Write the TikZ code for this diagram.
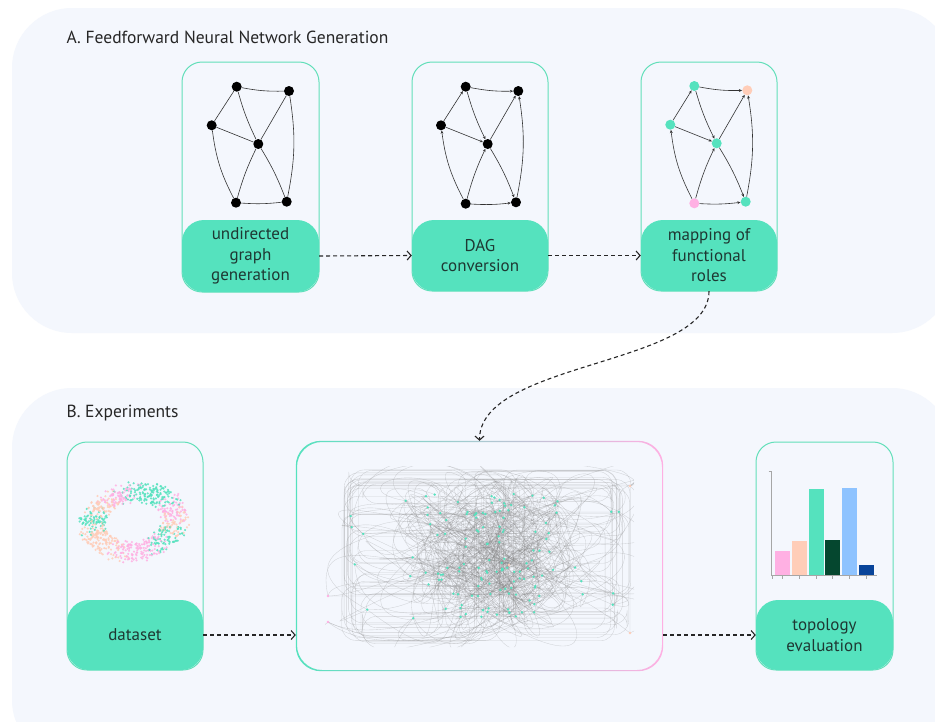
\documentclass[tikz,border=0pt]{standalone}
\usepackage{fontspec}
\setmainfont{PT Sans}
\usetikzlibrary{arrows.meta,calc}
\definecolor{panelbg}{HTML}{F4F7FD}
\definecolor{mint}{HTML}{55E2BE}
\definecolor{mintline}{HTML}{62DFB9}
\definecolor{txt}{HTML}{1E3833}
\definecolor{pinkc}{HTML}{FFB0E3}
\definecolor{peachc}{HTML}{FFCDB8}
\definecolor{darkg}{HTML}{05472F}
\definecolor{lblue}{HTML}{8EC3FF}
\definecolor{navyc}{HTML}{08449A}
\newcommand{\lblfont}{\fontsize{17pt}{20.5pt}\selectfont}
\tikzset{
  panel/.style={fill=panelbg, rounded corners=60pt},
  outerbox/.style={draw=mintline, line width=1pt, rounded corners=20pt, inner sep=0pt},
  labelbox/.style={fill=mint, rounded corners=22pt, text=txt, align=center, font=\lblfont, inner sep=0pt},
  gdot/.style={circle, fill=black, inner sep=0pt, minimum size=10pt},
  gedge/.style={draw=black!80, line width=0.6pt},
  darrow/.style={gedge, -{Stealth[length=3.2pt,width=2.8pt]}},
  flow/.style={draw=black!85, line width=1.1pt, dash pattern=on 4pt off 3pt, -{Straight Barb[length=4pt,width=9pt]}},
  netedge/.style={draw=black!50, line width=0.35pt, opacity=0.3},
  titlefont/.style={font=\fontsize{17.5pt}{20pt}\selectfont, text=black!85}
}
\begin{document}
\begin{tikzpicture}[x=1pt,y=-1pt]
\useasboundingbox (0,0) rectangle (935,721);
\fill[white] (0,0) rectangle (935,721);
% panels
\fill[panel] (12,8) rectangle (952,333);
\fill[panel] (12,388) rectangle (952,760);
\node[titlefont, anchor=west] (ta) at (63,37) {A. Feedforward Neural Network Generation};
\node[titlefont, anchor=west] (tb) at (63,413) {B. Experiments};

% ---------- panel A boxes
\node[outerbox, minimum width=137pt, minimum height=230pt] (b1) at (250.5,177) {};
\node[labelbox, minimum width=137pt, minimum height=72pt] (l1) at (250.5,256) {undirected\\graph\\generation};
\node[outerbox, minimum width=136pt, minimum height=229pt] (b2) at (480,176.5) {};
\node[labelbox, minimum width=136pt, minimum height=71pt] (l2) at (480,255.5) {DAG\\conversion};
\node[outerbox, minimum width=136pt, minimum height=229pt] (b3) at (709,176.5) {};
\node[labelbox, minimum width=136pt, minimum height=71pt] (l3) at (709,255.5) {mapping of\\functional\\roles};

% graph 1 (undirected)
\foreach \n/\x/\y in {1/236.7/86.7, 2/289/91, 3/211.7/125.3, 4/258.3/144, 5/236/202.7, 6/286.7/201.7}
  \node[gdot] (u\n) at (\x,\y) {};
\draw[gedge] (u1) to[bend right=6] (u2);
\draw[gedge] (u1) -- (u3);
\draw[gedge] (u1) to[bend right=5] (u4);
\draw[gedge] (u2) -- (u4);
\draw[gedge] (u2) to[bend left=10] (u6);
\draw[gedge] (u3) -- (u4);
\draw[gedge] (u3) to[bend right=10] (u5);
\draw[gedge] (u4) to[bend right=5] (u5);
\draw[gedge] (u4) to[bend left=5] (u6);
\draw[gedge] (u5) to[bend right=5] (u6);

% graph 2 (DAG)
\foreach \n/\x/\y in {1/465.7/86.7, 2/518.3/91, 3/441/125.3, 4/487.7/144, 5/465.7/203.7, 6/516/202.3}
  \node[gdot] (d\n) at (\x,\y) {};
\draw[darrow] (d1) to[bend right=6] (d2);
\draw[darrow] (d3) -- (d1);
\draw[darrow] (d1) to[bend right=5] (d4);
\draw[darrow] (d4) -- (d2);
\draw[darrow] (d6) to[bend right=10] (d2);
\draw[darrow] (d3) -- (d4);
\draw[darrow] (d5) to[bend left=10] (d3);
\draw[darrow] (d5) to[bend left=5] (d4);
\draw[darrow] (d4) to[bend left=5] (d6);
\draw[darrow] (d5) to[bend right=5] (d6);

% graph 3 (roles)
\foreach \n/\x/\y/\c in {1/694.3/86/mint, 2/747.3/90.3/peachc, 3/670.3/124.7/mint, 4/716.7/143.3/mint, 5/694.3/203.3/pinkc, 6/745.7/201.7/mint}
  \node[gdot, fill=\c] (r\n) at (\x,\y) {};
\draw[darrow] (r1) to[bend right=6] (r2);
\draw[darrow] (r3) -- (r1);
\draw[darrow] (r1) to[bend right=5] (r4);
\draw[darrow] (r4) -- (r2);
\draw[darrow] (r6) to[bend right=10] (r2);
\draw[darrow] (r3) -- (r4);
\draw[darrow] (r5) to[bend left=10] (r3);
\draw[darrow] (r5) to[bend left=5] (r4);
\draw[darrow] (r4) to[bend left=5] (r6);
\draw[darrow] (r5) to[bend right=5] (r6);

% ---------- panel B boxes
\node[outerbox, minimum width=136pt, minimum height=228pt] (b4) at (135,556) {};
\node[labelbox, minimum width=136pt, minimum height=70pt] (dl) at (135,635) {dataset};
\node[outerbox, minimum width=137pt, minimum height=228pt] (b6) at (824.5,556) {};
\node[labelbox, minimum width=137pt, minimum height=70pt] (tl) at (824.5,635) {topology\\evaluation};
\node[inner sep=0pt, minimum width=367pt, minimum height=230pt] (mid) at (479.5,556) {};
\shade[even odd rule, rounded corners=25pt, left color=mint, middle color=peachc, right color=pinkc]
  (mid.south west) rectangle (mid.north east)
  ([shift={(1.2pt,1.2pt)}]mid.south west) rectangle ([shift={(-1.2pt,-1.2pt)}]mid.north east);

% scatter (dataset)
\pgfmathsetseed{7}
\begin{scope}[shift={(134,522)}, rotate=8]
\foreach \k in {1,...,900}{
  \pgfmathsetmacro\ang{360*rnd}
  \pgfmathsetmacro\rr{0.78+0.24*rand}
  \pgfmathsetmacro\px{54*\rr*cos(\ang)+2.5*rand}
  \pgfmathsetmacro\py{-38*\rr*sin(\ang)+2.5*rand}
  \pgfmathtruncatemacro\sec{mod(\ang+18*rand+360,360)/30}
  \ifcase\sec \def\cc{pinkc}\or \def\cc{mint}\or \def\cc{mint}\or \def\cc{pinkc}\or \def\cc{peachc}\or \def\cc{mint}\or \def\cc{peachc}\or \def\cc{peachc}\or \def\cc{pinkc}\or \def\cc{pinkc}\or \def\cc{mint}\else \def\cc{peachc}\fi
  \fill[\cc, opacity=0.85] (\px,\py) circle (1.2pt);
}
\end{scope}

% bar chart
\draw[black!35, line width=0.8pt] (768.5,471.7) -- (771.7,471.7) -- (771.7,575.7) -- (876.7,575.7);
\foreach \tx in {772,782.3,799.3,816,832.7,849.3,866}
  \draw[black!35, line width=0.6pt] (\tx,575.7) -- (\tx,578.5);
\fill[pinkc] (775,551) rectangle (790,575);
\fill[peachc] (792,540.7) rectangle (806.7,575);
\fill[mint] (808.7,489) rectangle (823.7,575);
\fill[darkg] (825.3,540) rectangle (840.3,575);
\fill[lblue] (842,488.3) rectangle (857,575);
\fill[navyc] (858.7,565) rectangle (873.7,575);

% network (middle)
\pgfmathsetseed{11}
\foreach \i in {1,...,105}{
  \pgfmathsetmacro\nx{487+62*(rand+rand)/1.6}
  \pgfmathsetmacro\ny{556+62*rand}
  \coordinate (m\i) at (\nx,\ny);
}
\foreach \i in {106,...,140}{
  \pgfmathsetmacro\nx{350+270*rnd}
  \pgfmathsetmacro\ny{500+120*rnd}
  \coordinate (m\i) at (\nx,\ny);
}
\coordinate (m141) at (328,596);
\coordinate (m142) at (328,622);
\coordinate (m143) at (630,486);
\coordinate (m144) at (630,633);
\coordinate (m145) at (509,565);
\begin{scope}
\clip[rounded corners=15pt] (325,466) rectangle (634,647);
\foreach \k in {1,...,340}{
  \pgfmathrandominteger\a{1}{145}
  \pgfmathrandominteger\b{1}{145}
  \pgfmathsetmacro\cxa{110*rand}
  \pgfmathsetmacro\cya{90*rand}
  \pgfmathsetmacro\cxb{110*rand}
  \pgfmathsetmacro\cyb{90*rand}
  \draw[netedge] (m\a) .. controls ($(m\a)+(\cxa,\cya)$) and ($(m\b)+(\cxb,\cyb)$) .. (m\b);
}
\foreach \k in {1,...,45}{
  \pgfmathrandominteger\a{1}{145}
  \pgfmathrandominteger\b{1}{145}
  \pgfmathsetmacro\xl{rnd<0.5 ? 340+25*rnd : 605+27*rnd}
  \pgfmathsetmacro\yt{rnd<0.5 ? 469+22*rnd : 622+22*rnd}
  \draw[netedge, rounded corners=14pt] (m\a) -| (\xl,\yt) -| (m\b);
}
\end{scope}
\foreach \i in {1,...,140}
  \fill[mint] (m\i) circle (1.3pt);
\fill[pinkc] (m141) circle (1.4pt);
\fill[pinkc] (m142) circle (1.4pt);
\fill[peachc] (m143) circle (1.4pt);
\fill[peachc] (m144) circle (1.4pt);
\fill[peachc] (m145) circle (1.4pt);

% flow arrows
\draw[flow] (l1.east) -- (l2.west);
\draw[flow] (l2.east) -- (l3.west);
\draw[flow] (l3.south) .. controls +(0,75) and +(0,-80) .. (mid.north);
\draw[flow] (dl.east) -- (dl.east -| mid.west);
\draw[flow] (mid.east |- tl.west) -- (tl.west);
\end{tikzpicture}
\end{document}
